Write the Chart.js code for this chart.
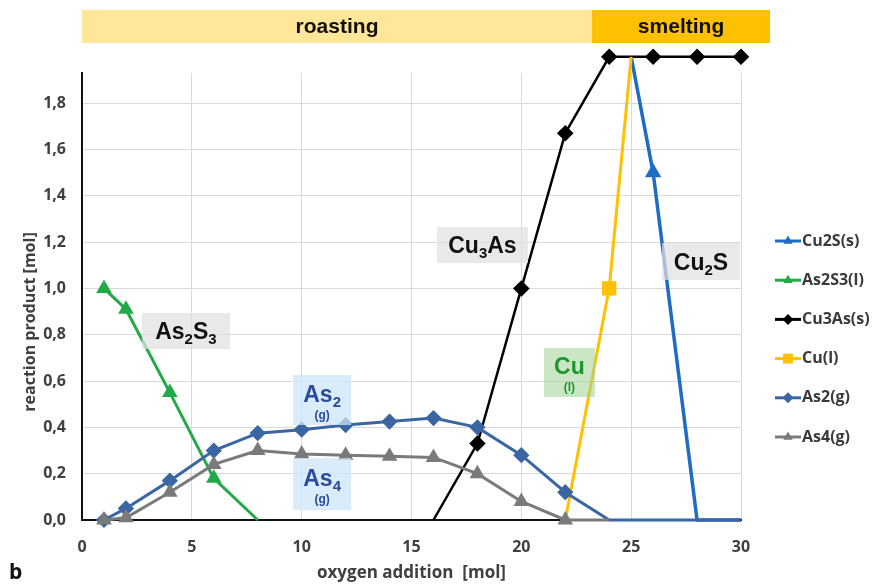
<!DOCTYPE html>
<html>
<head>
<meta charset="utf-8">
<script src="https://cdn.jsdelivr.net/npm/chart.js@4/dist/chart.umd.min.js"></script>
<style>
  html, body { margin: 0; padding: 0; background: #fff; }
  #wrap { width: 884px; height: 585px; }
</style>
</head>
<body>
<div id="wrap"><canvas id="grafico" width="884" height="585"></canvas></div>
<script>
// DATOS
const oxygen = [1, 2, 4, 6, 8, 10, 12, 14, 16, 18, 20, 22, 24, 25, 26, 28, 30];

const cu2s   = [null, null, null, null, null, null, null, null, null, null, null, null, null, 2.0, 1.5, 0, 0];
const as2s3  = [1.0, 0.91, 0.55, 0.18, 0, null, null, null, null, null, null, null, null, null, null, null, null];
const cu3as  = [null, null, null, null, null, null, null, null, 0, 0.33, 1.0, 1.67, 2.0, null, 2.0, 2.0, 2.0];
const cuL    = [null, null, null, null, null, null, null, null, null, null, null, 0, 1.0, 2.0, null, null, null];
const as2g   = [0, 0.05, 0.17, 0.30, 0.375, 0.39, 0.41, 0.425, 0.44, 0.40, 0.28, 0.12, 0, null, 0, 0, 0];
const as4g   = [0, 0.01, 0.12, 0.24, 0.30, 0.285, 0.28, 0.275, 0.27, 0.20, 0.08, 0, 0, null, null, null, null];

const xTicks = [0, 5, 10, 15, 20, 25, 30];
const yTicks = [0, 0.2, 0.4, 0.6, 0.8, 1.0, 1.2, 1.4, 1.6, 1.8];

const etapas = [
    { texto: 'roasting', desde: 0, hasta: 23.22, color: '#ffe699' },
    { texto: 'smelting', desde: 23.22, hasta: 31.32, color: '#ffc000' }
];

// etiquetas sobre las curvas: posicion en unidades del grafico
const etiquetas = [
    { x: 4.73, y: 0.816, w: 88, h: 36, fondo: 'rgba(225,225,225,0.72)', color: '#111', partes: [['As', 0], ['2', 1], ['S', 0], ['3', 1]] },
    { x: 18.23, y: 1.187, w: 91, h: 36, fondo: 'rgba(225,225,225,0.72)', color: '#111', partes: [['Cu', 0], ['3', 1], ['As', 0]] },
    { x: 28.18, y: 1.116, w: 78, h: 37, fondo: 'rgba(225,225,225,0.72)', color: '#111', partes: [['Cu', 0], ['2', 1], ['S', 0]] },
    { x: 10.93, y: 0.518, w: 58, h: 50, fondo: 'rgba(205,228,247,0.75)', color: '#2a4c9c', partes: [['As', 0], ['2', 1]], abajo: '(g)' },
    { x: 10.93, y: 0.155, w: 58, h: 52, fondo: 'rgba(205,228,247,0.75)', color: '#2a4c9c', partes: [['As', 0], ['4', 1]], abajo: '(g)' },
    { x: 22.19, y: 0.637, w: 51, h: 49, fondo: 'rgba(160,210,150,0.55)', color: '#1d962b', partes: [['Cu', 0]], abajo: '(l)' }
];

function puntos(valores) {
    return oxygen.map((x, i) => ({ x: x, y: valores[i] }));
}

function radios(r, ocultos) {
    return oxygen.map(x => ocultos.includes(x) ? 0 : r);
}

const series = [
    { label: 'Cu2S(s)', data: puntos(cu2s), borderColor: '#1f6cc4', backgroundColor: '#1f6cc4', pointStyle: 'triangle', pointRadius: radios(6, [25, 28, 30]), borderWidth: 3.5, order: 6 },
    { label: 'As2S3(l)', data: puntos(as2s3), borderColor: '#22aa48', backgroundColor: '#22aa48', pointStyle: 'triangle', pointRadius: radios(6, [8]), borderWidth: 3, order: 5 },
    { label: 'Cu3As(s)', data: puntos(cu3as), borderColor: '#000000', backgroundColor: '#000000', pointStyle: 'rectRot', pointRadius: radios(6.5, [16]), borderWidth: 2.5, order: 4 },
    { label: 'Cu(l)', data: puntos(cuL), borderColor: '#ffc000', backgroundColor: '#ffc000', pointStyle: 'rect', pointRadius: radios(8, [22, 25]), borderWidth: 3, order: 3 },
    { label: 'As2(g)', data: puntos(as2g), borderColor: '#3a66a3', backgroundColor: '#3a66a3', pointStyle: 'rectRot', pointRadius: radios(6, [24, 26, 28, 30]), borderWidth: 3, order: 2 },
    { label: 'As4(g)', data: puntos(as4g), borderColor: '#7a7a7a', backgroundColor: '#7a7a7a', pointStyle: 'triangle', pointRadius: radios(6, [24]), borderWidth: 3, order: 1 }
];

const fuente = "'Liberation Sans', Arial, sans-serif";
const fuenteEje = "'Open Sans', Lato, sans-serif";

// los puntos en 2,0 quedan por encima del area: se amplia el area solo al dibujar
const sobreArea = {
    id: 'sobreArea',
    beforeDatasetsDraw(chart) {
        this.topOriginal = chart.chartArea.top;
        chart.chartArea.top -= 30;
    },
    afterDatasetsDraw(chart) {
        chart.chartArea.top = this.topOriginal;
    }
};

// PLUGIN: franja superior, etiquetas, leyenda y titulos
const extras = {
    id: 'extras',
    afterDraw(chart) {
        const ctx = chart.ctx;
        const sx = chart.scales.x, sy = chart.scales.y;
        ctx.save();

        // franja roasting / smelting
        etapas.forEach(e => {
            const x1 = sx.getPixelForValue(e.desde), x2 = sx.getPixelForValue(e.hasta);
            ctx.fillStyle = e.color;
            ctx.fillRect(x1, 10, x2 - x1, 33);
            ctx.fillStyle = '#111';
            ctx.font = "bold 21px " + fuente;
            ctx.textAlign = 'center';
            ctx.textBaseline = 'middle';
            ctx.fillText(e.texto, (x1 + x2) / 2, 27);
        });

        // etiquetas de las curvas
        etiquetas.forEach(et => {
            const cx = sx.getPixelForValue(et.x), cy = sy.getPixelForValue(et.y);
            ctx.fillStyle = et.fondo;
            ctx.fillRect(cx - et.w / 2, cy - et.h / 2, et.w, et.h);
            const grande = "bold 23px " + fuente, chica = "bold 15px " + fuente;
            let ancho = 0;
            et.partes.forEach(p => { ctx.font = p[1] ? chica : grande; ancho += ctx.measureText(p[0]).width; });
            const base = et.abajo ? cy + 2 : cy + 8;
            let x = cx - ancho / 2;
            ctx.fillStyle = et.color;
            ctx.textAlign = 'left';
            ctx.textBaseline = 'alphabetic';
            et.partes.forEach(p => {
                ctx.font = p[1] ? chica : grande;
                ctx.fillText(p[0], x, p[1] ? base + 5 : base);
                x += ctx.measureText(p[0]).width;
            });
            if (et.abajo) {
                ctx.font = "bold 12px " + fuente;
                ctx.textAlign = 'center';
                ctx.fillText(et.abajo, cx, base + 17);
            }
        });

        // leyenda
        chart.data.datasets.forEach((ds, i) => {
            const y = 241 + i * 39.2;
            ctx.strokeStyle = ds.borderColor;
            ctx.fillStyle = ds.backgroundColor;
            ctx.lineWidth = 3;
            ctx.beginPath();
            ctx.moveTo(775, y);
            ctx.lineTo(801, y);
            ctx.stroke();
            Chart.helpers.drawPoint(ctx, { pointStyle: ds.pointStyle, rotation: 0, radius: ds.pointStyle === 'rect' ? 7 : 5.5, borderWidth: 0 }, 788, y);
            ctx.fillStyle = '#3a3a3a';
            ctx.font = "bold 16px " + fuenteEje;
            ctx.textAlign = 'left';
            ctx.textBaseline = 'middle';
            ctx.fillText(ds.label, 802, y);
        });

        // titulos de ejes
        ctx.fillStyle = '#404040';
        ctx.font = "bold 17px " + fuenteEje;
        ctx.textAlign = 'center';
        ctx.textBaseline = 'middle';
        ctx.fillText('oxygen addition  [mol]', (chart.chartArea.left + chart.chartArea.right) / 2, 573);
        ctx.font = "bold 16px " + fuenteEje;
        ctx.save();
        ctx.translate(30, 322);
        ctx.rotate(-Math.PI / 2);
        ctx.fillText('reaction product [mol]', 0, 0);
        ctx.restore();

        ctx.fillStyle = '#111';
        ctx.font = "bold 21px " + fuenteEje;
        ctx.textAlign = 'left';
        ctx.fillText('b', 9, 573);

        ctx.restore();
    }
};

const canvas = document.querySelector('#grafico');
const grafico = new Chart(canvas, {
    type: 'line',
    data: { datasets: series },
    options: {
        responsive: false,
        animation: false,
        devicePixelRatio: 1,
        spanGaps: true,
        clip: false,
        layout: { padding: { left: 0, right: 143, top: 73, bottom: 0 } },
        elements: { line: { tension: 0 }, point: { borderWidth: 0, hoverRadius: 6 } },
        plugins: { legend: { display: false }, tooltip: { enabled: false } },
        scales: {
            x: {
                type: 'linear',
                min: 0,
                max: 30,
                afterBuildTicks: s => { s.ticks = xTicks.map(v => ({ value: v })); },
                afterFit: s => { s.height = 65; },
                grid: { color: '#d9d9d9', lineWidth: 1, drawTicks: false },
                border: { display: true, color: '#111', width: 2 },
                ticks: { padding: 18, color: '#404040', font: { family: fuenteEje, size: 16, weight: 'bold' } }
            },
            y: {
                min: 0,
                max: 1.93,
                afterBuildTicks: s => { s.ticks = yTicks.map(v => ({ value: v })); },
                afterFit: s => { s.width = 82; },
                grid: { color: '#d9d9d9', lineWidth: 1, drawTicks: false },
                border: { display: true, color: '#111', width: 2 },
                ticks: {
                    padding: 16,
                    color: '#404040',
                    font: { family: fuenteEje, size: 16, weight: 'bold' },
                    callback: v => v.toFixed(1).replace('.', ',')
                }
            }
        }
    },
    plugins: [sobreArea, extras]
});
</script>
</body>
</html>
